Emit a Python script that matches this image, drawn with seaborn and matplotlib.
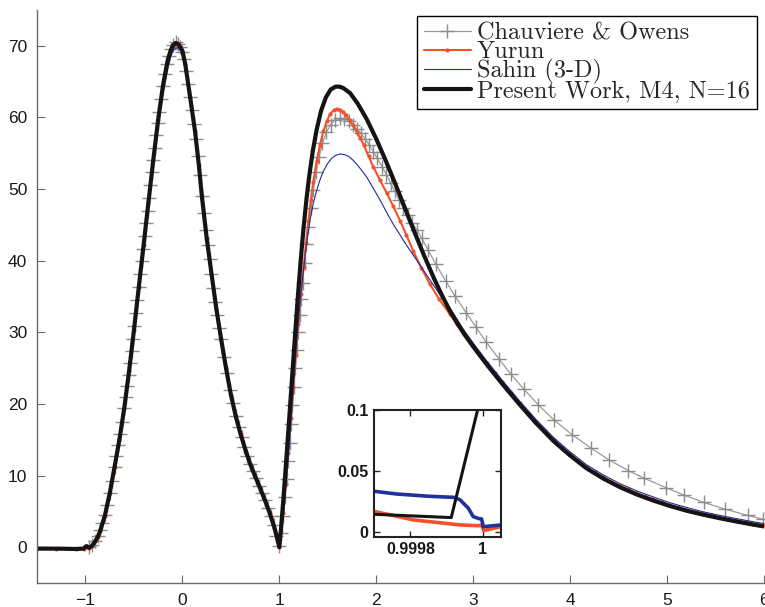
import matplotlib
matplotlib.use("Agg")
import matplotlib.pyplot as plt
import seaborn as sns

sns.set_style("ticks")
plt.rcParams["font.family"] = ["Liberation Sans Narrow", "Liberation Sans", "DejaVu Sans"]

# ---------------- data ----------------
x_ticks = [-1, 0, 1, 2, 3, 4, 5, 6]
y_ticks = [0, 10, 20, 30, 40, 50, 60, 70]
series_names = ["Chauviere & Owens", "Yurun", "Sahin (3-D)", "Present Work, M4, N=16"]

# Present Work, M4, N=16
present_x = [-1.5, -1.3, -1.1, -1.02, -0.99, -0.965, -0.94, -0.92, -0.90, -0.875, -0.85, -0.80,
             -0.75, -0.70, -0.65, -0.60, -0.55, -0.50, -0.45, -0.40, -0.35, -0.30, -0.25, -0.20,
             -0.15, -0.12, -0.10, -0.07, -0.04, 0.00, 0.03, 0.08, 0.13, 0.17, 0.20, 0.25, 0.30,
             0.35, 0.40, 0.45, 0.50, 0.55, 0.60, 0.65, 0.70, 0.75, 0.80, 0.85, 0.90, 0.95, 1.00,
             1.02, 1.04, 1.07, 1.10, 1.13, 1.16, 1.19, 1.22, 1.25, 1.28, 1.31, 1.345, 1.385, 1.43,
             1.48, 1.53, 1.58, 1.62, 1.66, 1.73, 1.81, 1.90, 2.00, 2.10, 2.20, 2.30, 2.40, 2.50,
             2.60, 2.68, 2.76, 2.83, 2.90, 3.00, 3.14, 3.30, 3.48, 3.65, 3.83, 4.00, 4.17, 4.34,
             4.51, 4.68, 4.86, 5.03, 5.20, 5.37, 5.54, 5.71, 5.89, 6.00]
present_y = [-0.2, -0.2, -0.25, -0.2, 0.15, -0.1, 0.1, 0.4, 0.8, 1.4, 2.2, 4.4,
             7.5, 11.2, 15.0, 19.4, 24.6, 30.3, 36.3, 42.2, 48.2, 54.1, 59.7, 64.5,
             68.1, 69.4, 70.0, 70.4, 70.2, 69.3, 67.4, 62.8, 58.1, 53.3, 49.1, 43.2, 38.2,
             33.3, 29.0, 25.0, 21.3, 18.3, 15.8, 13.6, 11.6, 9.9, 8.3, 6.6, 4.8, 2.7, 0.0,
             3.0, 6.4, 11.9, 17.6, 23.4, 29.2, 34.8, 40.0, 44.6, 48.6, 52.0, 55.3, 58.3, 60.9,
             62.8, 63.9, 64.3, 64.3, 64.1, 63.4, 61.9, 59.8, 57.0, 53.9, 50.6, 47.2, 43.8, 40.5,
             37.4, 35.1, 33.0, 31.4, 29.9, 28.0, 25.5, 22.8, 19.9, 17.3, 14.8, 12.8, 11.0, 9.6,
             8.4, 7.4, 6.5, 5.75, 5.1, 4.55, 4.05, 3.6, 3.15, 2.9]

# Sahin (3-D)
sahin_x = [-1.5, -1.3, -1.1, -1.02, -0.99, -0.965, -0.94, -0.92, -0.90, -0.875, -0.85, -0.80,
           -0.75, -0.70, -0.65, -0.60, -0.55, -0.50, -0.45, -0.40, -0.35, -0.30, -0.25, -0.20,
           -0.15, -0.12, -0.10, -0.07, -0.04, 0.00, 0.03, 0.08, 0.13, 0.17, 0.20, 0.25, 0.30,
           0.35, 0.40, 0.45, 0.50, 0.55, 0.60, 0.65, 0.70, 0.75, 0.80, 0.85, 0.90, 0.95, 1.00,
           1.03, 1.06, 1.09, 1.12, 1.145, 1.17, 1.19, 1.213, 1.24, 1.265, 1.29, 1.316, 1.35,
           1.385, 1.42, 1.454, 1.50, 1.54, 1.58, 1.625, 1.67, 1.711, 1.755, 1.797, 1.85, 1.90,
           1.97, 2.038, 2.105, 2.175, 2.24, 2.31, 2.38, 2.45, 2.525, 2.60, 2.68, 2.76, 2.83,
           2.90, 3.00, 3.14, 3.30, 3.48, 3.65, 3.83, 4.00, 4.17, 4.34, 4.51, 4.68, 4.86, 5.03,
           5.20, 5.37, 5.54, 5.71, 5.89, 6.00]
sahin_y = [-0.2, -0.2, -0.25, -0.2, 0.15, -0.1, 0.1, 0.4, 0.8, 1.4, 2.2, 4.4,
           7.4, 11.0, 14.8, 19.2, 24.3, 30.0, 35.9, 41.8, 47.7, 53.4, 58.8, 63.3,
           66.9, 68.5, 69.2, 69.7, 69.7, 69.0, 67.3, 62.8, 58.1, 53.3, 49.1, 43.2, 38.2,
           33.3, 29.0, 25.0, 21.3, 18.3, 15.8, 13.6, 11.6, 9.9, 8.3, 6.6, 4.8, 2.7, 0.0,
           3.0, 7.2, 12.2, 17.6, 22.4, 27.0, 30.6, 34.1, 37.6, 40.5, 43.2, 45.6, 48.0,
           49.8, 51.3, 52.5, 53.6, 54.3, 54.7, 54.9, 54.8, 54.6, 54.1, 53.5, 52.6, 51.7,
           50.1, 48.5, 46.8, 45.1, 43.7, 42.2, 40.8, 39.4, 37.9, 36.4, 34.8, 33.4, 31.9,
           30.4, 28.5, 26.0, 23.3, 20.4, 17.8, 15.3, 13.3, 11.5, 10.1, 8.9, 7.9, 7.0, 6.2,
           5.55, 4.95, 4.45, 4.0, 3.55, 3.3]

# Yurun
yurun_x = [-1.5, -1.3, -1.1, -1.02, -0.99, -0.965, -0.94, -0.92, -0.90, -0.875, -0.85, -0.80,
           -0.75, -0.70, -0.65, -0.60, -0.55, -0.50, -0.45, -0.40, -0.35, -0.30, -0.25, -0.20,
           -0.15, -0.12, -0.10, -0.07, -0.04, 0.00, 0.03, 0.08, 0.13, 0.17, 0.20, 0.25, 0.30,
           0.35, 0.40, 0.45, 0.50, 0.55, 0.60, 0.65, 0.70, 0.75, 0.80, 0.85, 0.90, 0.95, 1.00,
           1.02, 1.04, 1.065, 1.09, 1.12, 1.145, 1.17, 1.195, 1.22, 1.25, 1.275, 1.30, 1.325,
           1.35, 1.385, 1.42, 1.455, 1.49, 1.525, 1.56, 1.59, 1.625, 1.655, 1.69, 1.725, 1.76,
           1.80, 1.835, 1.87, 1.92, 1.97, 2.04, 2.11, 2.175, 2.245, 2.31, 2.38, 2.465, 2.55,
           2.65, 2.76, 2.83, 2.90, 3.00, 3.07, 3.14, 3.22, 3.30, 3.39, 3.48, 3.565, 3.65, 3.74,
           3.83, 3.915, 4.00, 4.085, 4.17, 4.255, 4.34, 4.425, 4.51, 4.595, 4.68, 4.77, 4.86,
           4.945, 5.03, 5.115, 5.20, 5.285, 5.37, 5.455, 5.54, 5.625, 5.71, 5.80, 5.89, 5.95, 6.00]
yurun_y = [-0.2, -0.2, -0.25, -0.2, 0.15, -0.1, 0.1, 0.4, 0.8, 1.4, 2.2, 4.4,
           7.5, 11.2, 15.0, 19.4, 24.6, 30.3, 36.3, 42.2, 48.2, 54.1, 59.7, 64.5,
           68.1, 69.4, 70.0, 70.4, 70.2, 69.3, 67.4, 62.8, 58.1, 53.3, 49.1, 43.2, 38.2,
           33.3, 29.0, 25.0, 21.3, 18.3, 15.8, 13.6, 11.6, 9.9, 8.3, 6.6, 4.8, 2.7, 0.0,
           2.2, 4.8, 8.8, 13.2, 18.0, 22.4, 26.9, 31.2, 35.3, 39.1, 42.5, 45.6, 48.5,
           51.0, 53.9, 56.2, 58.1, 59.5, 60.5, 61.0, 61.2, 61.1, 60.8, 60.3, 59.6, 58.9,
           58.0, 57.1, 56.2, 54.6, 53.1, 51.2, 49.4, 47.6, 45.6, 43.6, 41.4, 39.0, 36.8,
           34.6, 32.5, 31.1, 29.8, 28.1, 26.9, 25.7, 24.3, 23.0, 21.5, 20.1, 18.8, 17.5, 16.2,
           15.0, 13.9, 12.95, 12.05, 11.2, 10.45, 9.8, 9.15, 8.6, 8.1, 7.6, 7.1, 6.7,
           6.3, 5.9, 5.55, 5.25, 4.95, 4.7, 4.45, 4.2, 3.95, 3.75, 3.5, 3.3, 3.15, 3.05]

# Chauviere & Owens
chauv_x = [-0.96, -0.93, -0.90, -0.875, -0.85, -0.825, -0.80, -0.775, -0.75, -0.725, -0.70,
           -0.68, -0.66, -0.64, -0.62, -0.60, -0.585, -0.57, -0.555, -0.54, -0.525, -0.51,
           -0.495, -0.48, -0.465, -0.45, -0.435, -0.42, -0.405, -0.39, -0.375, -0.36, -0.345,
           -0.33, -0.315, -0.30, -0.285, -0.27, -0.255, -0.24, -0.22, -0.20, -0.18, -0.16,
           -0.14, -0.12, -0.095, -0.07, -0.045, -0.02, 0.0, 0.02, 0.04, 0.06, 0.08, 0.10, 0.12,
           0.14, 0.16, 0.18, 0.20, 0.22, 0.24, 0.26, 0.28, 0.30, 0.32, 0.34, 0.36, 0.38, 0.40,
           0.43, 0.46, 0.49, 0.52, 0.55, 0.58, 0.61, 0.64, 0.67, 0.70, 0.73, 0.76, 0.79, 0.82,
           0.85, 0.88, 0.91, 0.94, 0.97, 1.00, 1.02, 1.04, 1.06, 1.075, 1.09, 1.105, 1.12,
           1.135, 1.15, 1.165, 1.18, 1.195, 1.21, 1.225, 1.24, 1.26, 1.28, 1.30, 1.325, 1.35,
           1.38, 1.41, 1.445, 1.485, 1.53, 1.575, 1.625, 1.67, 1.715, 1.755, 1.80, 1.84, 1.885,
           1.925, 1.97, 2.01, 2.06, 2.105, 2.15, 2.19, 2.235, 2.28, 2.325, 2.37, 2.42, 2.47,
           2.535, 2.615, 2.715, 2.81, 2.93, 3.03, 3.13, 3.265, 3.385, 3.52, 3.67, 3.83, 4.02,
           4.22, 4.40, 4.60, 4.76, 4.99, 5.17, 5.38, 5.60, 5.83, 5.99]
chauv_y = [0.0, 0.3, 0.9, 1.6, 2.4, 3.4, 4.5, 5.9, 7.5, 9.3, 11.2,
           12.7, 14.2, 15.8, 17.5, 19.4, 20.9, 22.5, 24.1, 25.7, 27.4, 29.1,
           30.9, 32.7, 34.5, 36.3, 38.1, 39.9, 41.6, 43.4, 45.2, 47.0, 48.8,
           50.6, 52.4, 54.1, 55.8, 57.5, 59.2, 60.7, 62.6, 64.4, 66.0, 67.4,
           68.6, 69.5, 70.1, 70.5, 70.3, 69.8, 69.2, 68.1, 66.5, 64.7, 62.8, 61.0, 59.1,
           57.0, 54.6, 51.9, 49.1, 46.6, 44.3, 42.2, 40.2, 38.2, 36.2, 34.2, 32.4, 30.6, 29.0,
           26.6, 24.3, 22.0, 20.1, 18.3, 16.8, 15.4, 14.0, 12.8, 11.6, 10.6, 9.6, 8.6, 7.6,
           6.6, 5.5, 4.4, 3.1, 1.6, 0.2, 2.0, 4.3, 7.0, 9.5, 12.0, 14.6, 17.2,
           19.8, 22.4, 25.0, 27.5, 30.0, 32.4, 34.7, 36.9, 39.7, 42.3, 44.7, 47.4, 49.9,
           52.4, 54.5, 56.4, 57.9, 59.0, 59.7, 59.9, 59.8, 59.5, 59.0, 58.4, 57.8, 57.0,
           56.2, 55.2, 54.3, 53.1, 52.0, 50.8, 49.7, 48.5, 47.4, 46.4, 45.3, 44.3, 43.1,
           41.5, 39.5, 37.2, 35.1, 32.7, 30.7, 28.7, 26.3, 24.2, 22.1, 19.9, 17.8, 15.7,
           13.8, 12.2, 10.7, 9.65, 8.3, 7.3, 6.25, 5.3, 4.45, 3.9]

# close-up near x = 1
inset_x_ticks = [0.9998, 1.0]
inset_x_labels = ["0.9998", "1"]
inset_y_ticks = [0.0, 0.05, 0.1]
inset_y_labels = ["0", "0.05", "0.1"]
zoom_present_x = [0.99970, 0.999913, 0.999986, 0.999992]
zoom_present_y = [0.0144, 0.0117, 0.1000, 0.1080]
zoom_sahin_x = [0.99970, 0.99976, 0.99985, 0.99992, 0.999937, 0.99996, 0.999974, 0.99999,
                0.999997, 1.000002, 1.00005]
zoom_sahin_y = [0.0333, 0.0311, 0.0292, 0.0283, 0.0264, 0.0195, 0.0125, 0.0108,
                0.0106, 0.0042, 0.0056]
zoom_yurun_x = [0.99970, 0.99981, 0.99994, 0.99999, 0.999997, 1.000003, 1.00005]
zoom_yurun_y = [0.0167, 0.0097, 0.0056, 0.0050, 0.0056, 0.0010, 0.0042]

# ---------------- styling ----------------
c_chauv = "#9a9a9a"
c_yurun = "#f0532b"
c_sahin = "#1f2b9c"
c_present = "#141414"
axis_col = "#6a6a6a"

W, H = 765, 607
fig = plt.figure(figsize=(W / 100, H / 100), dpi=100, facecolor="white")
ax = fig.add_axes([37 / W, 24 / H, 727 / W, 573 / H])

sns.lineplot(x=chauv_x, y=chauv_y, ax=ax, estimator=None, sort=False, color=c_chauv,
             lw=0.9, marker="+", markersize=10, markeredgewidth=1.0,
             markeredgecolor="#8c8c8c", label=series_names[0])
sns.lineplot(x=yurun_x, y=yurun_y, ax=ax, estimator=None, sort=False, color=c_yurun,
             lw=1.5, marker="o", markersize=3.0, markeredgewidth=0,
             markerfacecolor=c_yurun, label=series_names[1])
sns.lineplot(x=sahin_x, y=sahin_y, ax=ax, estimator=None, sort=False, color=c_sahin,
             lw=0.8, label=series_names[2])
sns.lineplot(x=present_x, y=present_y, ax=ax, estimator=None, sort=False, color=c_present,
             lw=3.0, label=series_names[3])

ax.set_xlim(-1.5, 6)
ax.set_ylim(-5, 75)
ax.set_xticks(x_ticks)
ax.set_yticks(y_ticks)
ax.set_xticklabels([f"{t:d}".replace("-", "\u2212") for t in x_ticks])
ax.set_xlabel("")
ax.set_ylabel("")
sns.despine(ax=ax, top=True, right=True)
for side in ("left", "bottom"):
    ax.spines[side].set_color(axis_col)
    ax.spines[side].set_linewidth(1.0)
ax.tick_params(axis="both", direction="in", length=6, width=0.8, color=axis_col,
               labelsize=12.5, labelcolor="#1a1a1a")
ax.tick_params(axis="y", pad=7)
ax.tick_params(axis="x", pad=7)

leg = ax.legend(loc="upper right", bbox_to_anchor=(0.990, 0.9895), borderaxespad=0,
                prop={"family": "cmr10", "size": 17.5}, frameon=True, fancybox=False,
                edgecolor="black", framealpha=1, handlelength=1.95, handletextpad=0.25,
                labelspacing=-0.16, borderpad=0.28, numpoints=1)
leg.get_frame().set_linewidth(1.0)

# inset close-up
axin = fig.add_axes([374.3 / W, (H - 536.7) / H, 126.4 / W, 126.7 / H], facecolor="white")
sns.lineplot(x=zoom_yurun_x, y=zoom_yurun_y, ax=axin, estimator=None, sort=False,
             color=c_yurun, lw=2.6)
sns.lineplot(x=zoom_sahin_x, y=zoom_sahin_y, ax=axin, estimator=None, sort=False,
             color="#22309e", lw=2.6)
sns.lineplot(x=zoom_present_x, y=zoom_present_y, ax=axin, estimator=None, sort=False,
             color=c_present, lw=2.2)
axin.set_xlim(0.9997, 1.00005)
axin.set_ylim(-0.004, 0.1)
axin.set_xticks(inset_x_ticks)
axin.set_xticklabels(inset_x_labels)
axin.set_yticks(inset_y_ticks)
axin.set_yticklabels(inset_y_labels)
axin.set_xlabel("")
axin.set_ylabel("")
for s in axin.spines.values():
    s.set_color("#222222")
    s.set_linewidth(1.5)
axin.tick_params(axis="both", direction="in", length=4, width=1.0, top=True, right=True,
                 labelsize=11.5, labelcolor="#1a1a1a", pad=4)
for lab in axin.get_xticklabels() + axin.get_yticklabels():
    lab.set_fontweight("bold")
    lab.set_family(["Liberation Sans", "DejaVu Sans"])

fig.savefig("out.png", dpi=100, facecolor="white")
